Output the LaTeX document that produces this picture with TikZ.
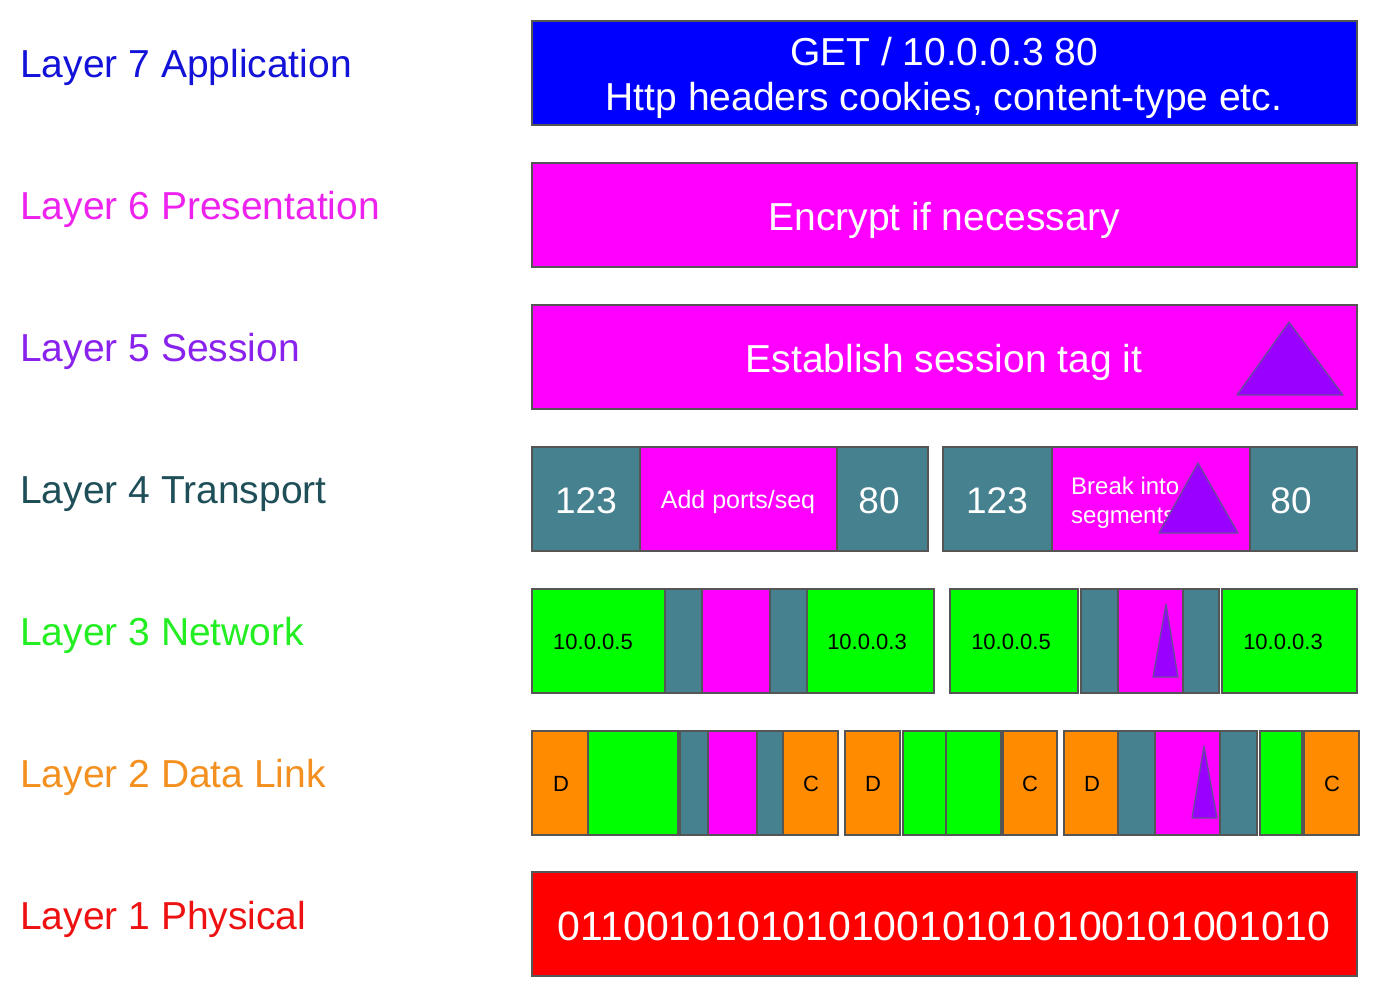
\documentclass[tikz,border=0pt]{standalone}
\usepackage{fontspec}
\setmainfont{Liberation Sans}
\definecolor{cblue}{HTML}{0000FF}
\definecolor{cmag}{HTML}{FF00FF}
\definecolor{cpur}{HTML}{9900FF}
\definecolor{cteal}{HTML}{45818E}
\definecolor{cgreen}{HTML}{00FF00}
\definecolor{corange}{HTML}{FF8C00}
\definecolor{cred}{HTML}{FF0000}
\definecolor{cedge}{HTML}{555555}
\definecolor{ctriedge}{HTML}{6A4C9C}
\definecolor{lseven}{HTML}{1212D8}
\definecolor{lsix}{HTML}{EE22EE}
\definecolor{lfive}{HTML}{8A22EE}
\definecolor{lfour}{HTML}{1E4E58}
\definecolor{lthree}{HTML}{22EE22}
\definecolor{ltwo}{HTML}{F39020}
\definecolor{lone}{HTML}{EE1111}
\tikzset{
  cell/.style={draw=cedge, line width=1.5pt},
  tri/.style={draw=ctriedge, fill=cpur, line width=1.3pt, line join=round},
  lbl/.style={anchor=base west, inner sep=0pt, font=\fontsize{39}{45}\selectfont},
  big/.style={anchor=base, inner sep=0pt, text=white, font=\fontsize{39}{45}\selectfont},
  num/.style={anchor=base, inner sep=0pt, text=white, font=\fontsize{37}{44}\selectfont},
  small/.style={anchor=base, inner sep=0pt, text=black, font=\fontsize{22}{26}\selectfont},
}
\begin{document}
\begin{tikzpicture}[x=1pt,y=-1pt]
\useasboundingbox (0,0) rectangle (1385,1001);
\fill[white] (0,0) rectangle (1385,1001);

% labels
\node[lbl, text=lseven] (l7) at (20,77) {Layer 7 Application};
\node[lbl, text=lsix] (l6) at (20,219) {Layer 6 Presentation};
\node[lbl, text=lfive] (l5) at (20,361) {Layer 5 Session};
\node[lbl, text=lfour] (l4) at (20,503) {Layer 4 Transport};
\node[lbl, text=lthree] (l3) at (20,645) {Layer 3 Network};
\node[lbl, text=ltwo] (l2) at (20,787) {Layer 2 Data Link};
\node[lbl, text=lone] (l1) at (20,929) {Layer 1 Physical};

% Layer 7
\draw[cell, fill=cblue] (532,21) rectangle (1357,125);
\node[big] (t7a) at (944,65) {GET / 10.0.0.3 80};
\node[big] (t7b) at (944,110) {Http headers cookies, content-type etc.};

% Layer 6
\draw[cell, fill=cmag] (532,163) rectangle (1357,267);
\node[big] (t6) at (944,230) {Encrypt if necessary};

% Layer 5
\draw[cell, fill=cmag] (532,305) rectangle (1357,409);
\node[big] (t5) at (944,372) {Establish session tag it};
\draw[tri] (1289,322) -- (1343,395) -- (1237,395) -- cycle;

% Layer 4
\draw[cell, fill=cteal] (532,447) rectangle (640,551);
\draw[cell, fill=cmag] (640,447) rectangle (837,551);
\draw[cell, fill=cteal] (837,447) rectangle (928,551);
\node[num] (t4a) at (586,513) {123};
\node[anchor=base, inner sep=0pt, text=white, font=\fontsize{25}{30}\selectfont] (t4b) at (738,508) {Add ports/seq};
\node[num] (t4c) at (879,513) {80};

\draw[cell, fill=cteal] (943,447) rectangle (1052,551);
\draw[cell, fill=cmag] (1052,447) rectangle (1250,551);
\draw[cell, fill=cteal] (1250,447) rectangle (1357,551);
\node[num] (t4d) at (997,513) {123};
\node[anchor=base west, inner sep=0pt, text=white, font=\fontsize{24}{29}\selectfont] (t4e) at (1071,494) {Break into};
\node[anchor=base west, inner sep=0pt, text=white, font=\fontsize{24}{29}\selectfont] (t4f) at (1071,523) {segments};
\node[num] (t4g) at (1291,513) {80};
\draw[tri] (1198,463) -- (1238,533) -- (1159,533) -- cycle;

% Layer 3
\draw[cell, fill=cgreen] (532,589) rectangle (665,693);
\draw[cell, fill=cteal] (665,589) rectangle (702,693);
\draw[cell, fill=cmag] (702,589) rectangle (770,693);
\draw[cell, fill=cteal] (770,589) rectangle (807,693);
\draw[cell, fill=cgreen] (807,589) rectangle (934,693);
\node[small] (t3a) at (593,649) {10.0.0.5};
\node[small] (t3b) at (867,649) {10.0.0.3};

\draw[cell, fill=cgreen] (950,589) rectangle (1078,693);
\draw[cell, fill=cteal] (1081,589) rectangle (1118,693);
\draw[cell, fill=cmag] (1118,589) rectangle (1183,693);
\draw[cell, fill=cteal] (1183,589) rectangle (1219,693);
\draw[cell, fill=cgreen] (1222,589) rectangle (1357,693);
\node[small] (t3c) at (1011,649) {10.0.0.5};
\node[small] (t3d) at (1283,649) {10.0.0.3};
\draw[tri] (1166,604) -- (1178,677) -- (1153,677) -- cycle;

% Layer 2
\draw[cell, fill=corange] (532,731) rectangle (588,835);
\draw[cell, fill=cgreen] (588,731) rectangle (678,835);
\draw[cell, fill=cteal] (680,731) rectangle (708,835);
\draw[cell, fill=cmag] (708,731) rectangle (757,835);
\draw[cell, fill=cteal] (757,731) rectangle (783,835);
\draw[cell, fill=corange] (783,731) rectangle (838,835);
\node[small] (t2a) at (561,791) {D};
\node[small] (t2b) at (811,791) {C};

\draw[cell, fill=corange] (845,731) rectangle (900,835);
\draw[cell, fill=cgreen] (903,731) rectangle (946,835);
\draw[cell, fill=cgreen] (946,731) rectangle (1001,835);
\draw[cell, fill=corange] (1003,731) rectangle (1057,835);
\node[small] (t2c) at (873,791) {D};
\node[small] (t2d) at (1030,791) {C};

\draw[cell, fill=corange] (1064,731) rectangle (1118,835);
\draw[cell, fill=cteal] (1118,731) rectangle (1155,835);
\draw[cell, fill=cmag] (1155,731) rectangle (1220,835);
\draw[cell, fill=cteal] (1220,731) rectangle (1257,835);
\draw[cell, fill=cgreen] (1260,731) rectangle (1302,835);
\draw[cell, fill=corange] (1304,731) rectangle (1359,835);
\node[small] (t2e) at (1092,791) {D};
\node[small] (t2f) at (1332,791) {C};
\draw[tri] (1204,746) -- (1217,818) -- (1192,818) -- cycle;

% Layer 1
\draw[cell, fill=cred] (532,872) rectangle (1357,976);
\node[anchor=base, inner sep=0pt, text=white, font=\fontsize{41}{48}\selectfont] (t1) at (944,940) {0110010101010100101010100101001010};
\end{tikzpicture}
\end{document}
